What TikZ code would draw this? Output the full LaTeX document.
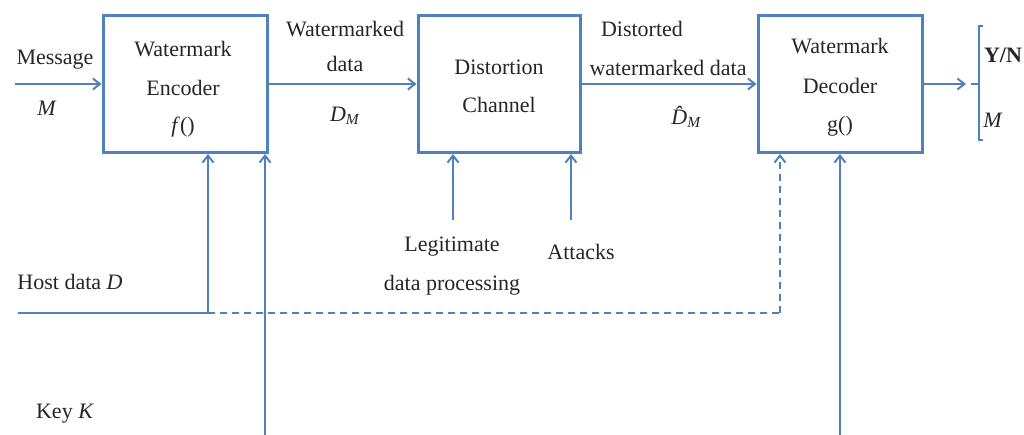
\documentclass[tikz,border=0pt]{standalone}
\usepackage{fontspec}
\setmainfont{Liberation Serif}
\usetikzlibrary{arrows.meta,shadows}
\definecolor{lineblue}{RGB}{79,129,189}
\tikzset{
  blk/.style={draw=lineblue, line width=3pt, fill=white, minimum width=164pt, minimum height=137pt,
    drop shadow={shadow xshift=2pt, shadow yshift=-2pt, opacity=0.35, fill=gray}},
  conn/.style={draw=lineblue, line width=2pt},
  tip/.style={-{Straight Barb[length=7pt,width=11pt,line width=2pt]}},
  arr/.style={conn, tip},
  dsh/.style={conn, dash pattern=on 7pt off 5pt},
  lbl/.style={inner sep=0pt, font=\fontsize{22}{26}\selectfont, text=black!85, align=center},
}
\begin{document}
\begin{tikzpicture}[x=1pt,y=-1pt]
\useasboundingbox (0,0) rectangle (1024,435);
% boxes
\node[blk] (enc) at (185,84) {};
\node[blk, minimum width=162pt] (dist) at (499,84) {};
\node[blk] (dec) at (840,84) {};
% box texts
\node[lbl] (enc1) at (183,49) {Watermark};
\node[lbl] (enc2) at (183,88) {Encoder};
\node[lbl] (enc3) at (183,127) {\textit{f}()};
\node[lbl] (dist1) at (499,67) {Distortion};
\node[lbl] (dist2) at (499,105) {Channel};
\node[lbl] (dec1) at (840,46) {Watermark};
\node[lbl] (dec2) at (840,86) {Decoder};
\node[lbl] (dec3) at (840,126) {g()};
% labels
\node[lbl] (msg) at (55,60) {Message};
\node[lbl] (msgM) at (47,108) {\textit{M}};
\node[lbl] (wd1) at (345,29) {Watermarked};
\node[lbl] (wd2) at (345,64) {data};
\node[lbl] (wdM) at (345,116) {\textit{D}\textsubscript{\textit{M}}};
\node[lbl] (dd1) at (642,29) {Distorted};
\node[lbl] (dd2) at (668,68) {watermarked data};
\node[lbl] (ddM) at (686,117) {{\itshape\^{D}}\textsubscript{\itshape M}};
\node[lbl] (leg1) at (452,247) {Legitimate};
\node[lbl] (leg2) at (452,285) {data processing};
\node[lbl] (att) at (581,252) {Attacks};
\node[lbl] (host) at (70,282) {Host data \textit{D}};
\node[lbl] (key) at (65,414) {Key \textit{K}};
\node[lbl, font=\fontsize{22}{26}\selectfont\bfseries] (yn) at (1003,55) {Y/N};
\node[lbl] (outM) at (993,120) {\textit{M}};
% coordinates
\coordinate (m0) at (15,84);
\coordinate (o1) at (966,84);
\coordinate (o2) at (971,84);
\coordinate (h0) at (18,313);
\coordinate (h1) at (208,313);
\coordinate (h2) at (780,313);
\coordinate (k1) at (265,436);
\coordinate (k2) at (840,436);
\coordinate (l1) at (453,220);
\coordinate (a1) at (571,220);
\coordinate (bt) at (979,26);
\coordinate (bb) at (979,140);
% connectors
\draw[arr] (m0) -- (enc.west);
\draw[arr] (enc.east) -- (dist.west);
\draw[arr] (dist.east) -- (dec.west);
\draw[arr] (dec.east) -- (o1);
\draw[conn] (h0) -- (h1);
\draw[arr] (h1) -- (h1 |- enc.south);
\draw[dsh] (h1) -- (h2);
\draw[dsh, tip] (h2) -- (h2 |- dec.south);
\draw[arr] (k1) -- (k1 |- enc.south);
\draw[arr] (k2) -- (k2 |- dec.south);
\draw[arr] (l1) -- (l1 |- dist.south);
\draw[arr] (a1) -- (a1 |- dist.south);
% bracket
\draw[conn] ([xshift=4pt]bt) -- (bt) -- (bb) -- ([xshift=4pt]bb);
\draw[conn] (o2) -- (o2 -| bt);
\end{tikzpicture}
\end{document}
